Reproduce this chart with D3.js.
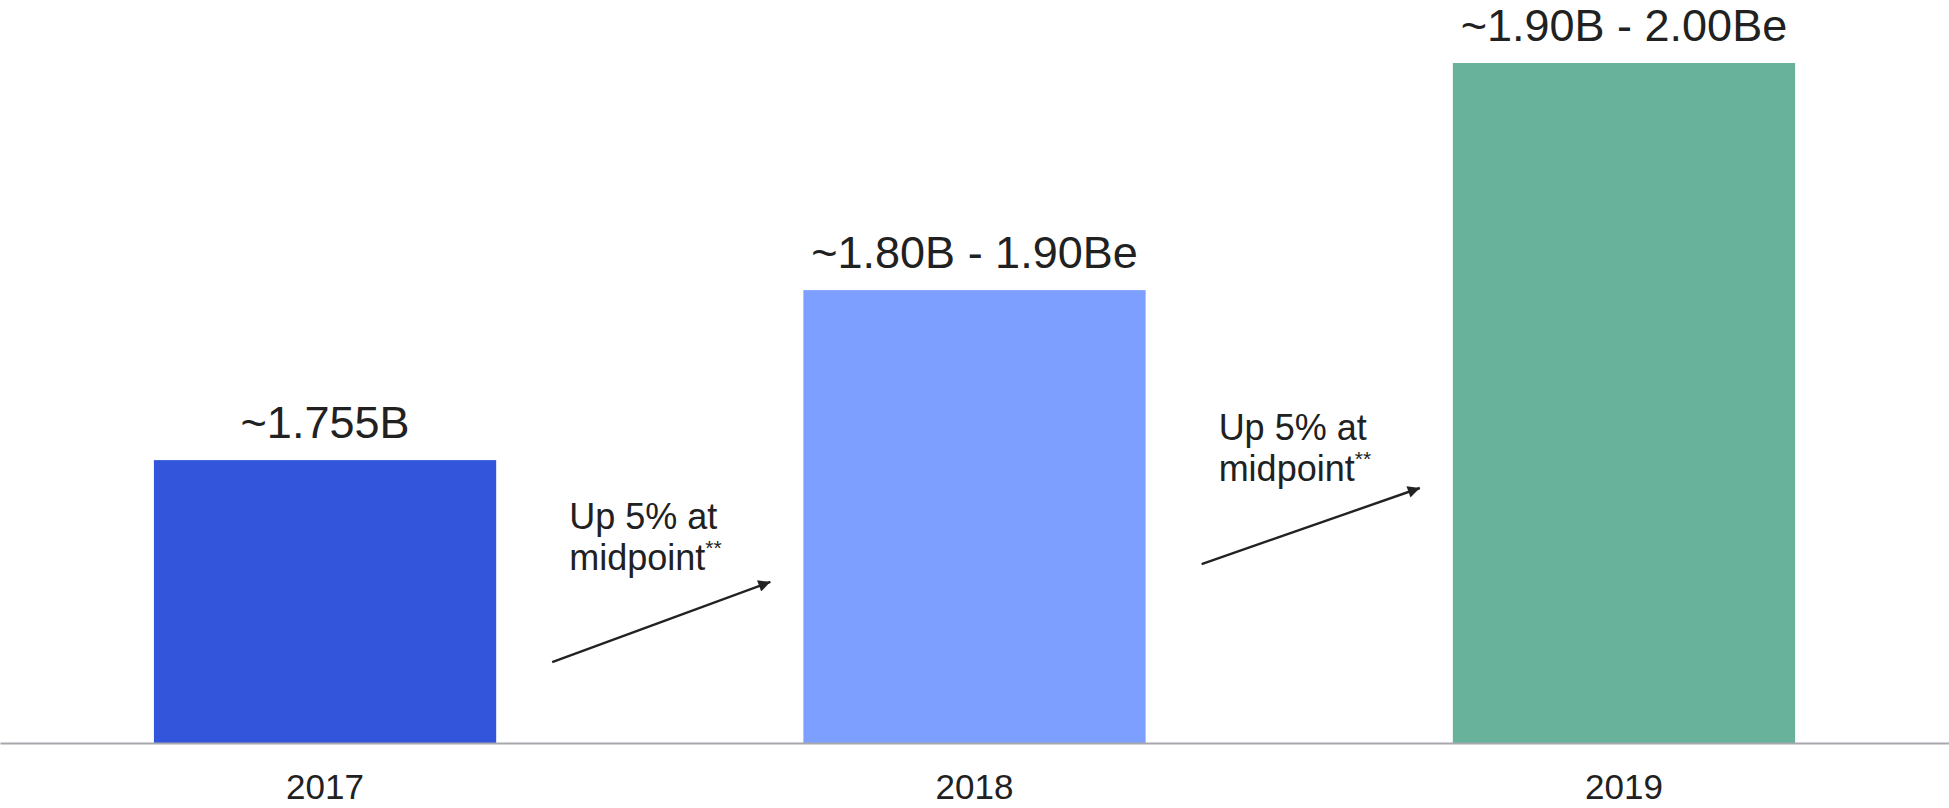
<!DOCTYPE html>
<html>
<head>
<meta charset="utf-8">
<script src="https://cdn.jsdelivr.net/npm/d3@7"></script>
<style>
  body { margin: 0; background: #fff; }
  svg text { font-family: Arial, "Liberation Sans", sans-serif; fill: #212121; }
  .axis path { stroke: #a7a7ae; stroke-width: 2px; }
</style>
</head>
<body>
<div id="chart"></div>
<script>
// bar data, heights as % of the tallest bar (chart is not to scale)
var years = ['2017', '2018', '2019'];
var barHeights = [41.6, 66.6, 100];
var barLabels = ['~1.755B', '~1.80B - 1.90Be', '~1.90B - 2.00Be'];
var barColors = ['#3355db', '#7d9fff', '#68b29c'];

// growth notes between bars
var noteLines = [['Up 5% at', 'midpoint'], ['Up 5% at', 'midpoint']];
var arrowFrom = [11.9, 26.3];
var arrowTo = [23.7, 37.5];
var noteLevel = [25.4, 38.6];

var width = 1949, height = 808;
var baseY = 743, topY = 63;

var svg = d3.select('#chart').append('svg')
    .attr('width', width)
    .attr('height', height);

svg.append('defs').append('marker')
    .attr('id', 'head')
    .attr('viewBox', '0 0 10 10')
    .attr('refX', 10).attr('refY', 5)
    .attr('markerWidth', 6).attr('markerHeight', 5)
    .attr('markerUnits', 'strokeWidth')
    .attr('orient', 'auto')
    .append('path')
    .attr('d', 'M0,0L10,5L0,10Z')
    .attr('fill', '#222');

var x = d3.scaleBand()
    .domain(years)
    .range([0, width])
    .paddingInner(0.473)
    .paddingOuter(0.237);

var y = d3.scaleLinear()
    .domain([0, 100])
    .range([baseY, topY]);

//bars
svg.selectAll('rect.bar')
    .data(years)
    .enter()
    .append('rect')
    .attr('class', 'bar')
    .attr('x', function(d) { return x(d); })
    .attr('y', function(d, i) { return y(barHeights[i]); })
    .attr('width', x.bandwidth())
    .attr('height', function(d, i) { return baseY - y(barHeights[i]); })
    .attr('fill', function(d, i) { return barColors[i]; });

//value labels
svg.selectAll('text.val')
    .data(years)
    .enter()
    .append('text')
    .attr('class', 'val')
    .attr('x', function(d) { return x(d) + x.bandwidth() / 2; })
    .attr('y', function(d, i) { return y(barHeights[i]) - 22; })
    .attr('text-anchor', 'middle')
    .style('font-size', '45px')
    .text(function(d, i) { return barLabels[i]; });

//axis
var axis = svg.append('g')
    .attr('class', 'axis')
    .attr('transform', 'translate(0,' + baseY + ')')
    .call(d3.axisBottom(x).tickSize(0).tickPadding(31));
axis.selectAll('text')
    .style('font-size', '35px')
    .attr('dy', '0.71em');

//arrows + notes
for (var i = 0; i < noteLines.length; i++) {
    var gapStart = x(years[i]) + x.bandwidth();
    var gapEnd = x(years[i + 1]);

    svg.append('line')
        .attr('x1', gapStart + 56)
        .attr('y1', y(arrowFrom[i]))
        .attr('x2', gapEnd - 33)
        .attr('y2', y(arrowTo[i]))
        .attr('stroke', '#222')
        .attr('stroke-width', 2.4)
        .attr('marker-end', 'url(#head)');

    var t = svg.append('text')
        .attr('x', gapStart + 73)
        .attr('y', y(noteLevel[i]))
        .style('font-size', '36px');
    t.append('tspan')
        .attr('x', gapStart + 73)
        .attr('dy', -41)
        .text(noteLines[i][0]);
    t.append('tspan')
        .attr('x', gapStart + 73)
        .attr('dy', 41)
        .text(noteLines[i][1]);
    t.append('tspan')
        .attr('dy', -15)
        .style('font-size', '21px')
        .text('**');
}
</script>
</body>
</html>
